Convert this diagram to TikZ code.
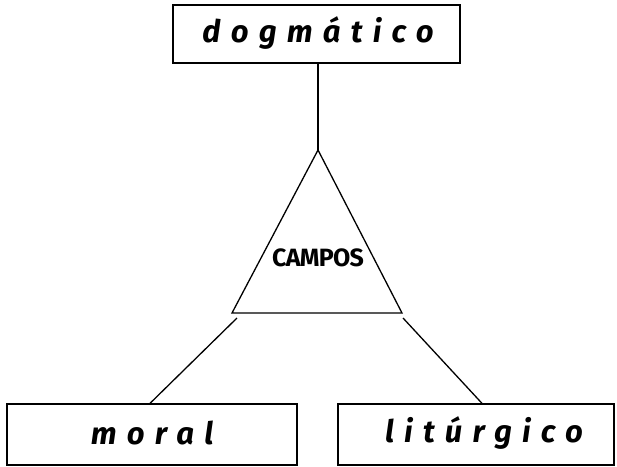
\documentclass[tikz,border=0pt]{standalone}
\usepackage{fontspec}
\setmainfont{Fira Sans}
\newfontfamily\labfont[LetterSpace=33,Ligatures=CommonOff]{Fira Sans}
\newfontfamily\campfont[LetterSpace=-3]{Fira Sans}
\begin{document}
\begin{tikzpicture}[x=1pt,y=-1pt,
  line/.style={line width=1.3pt},
  box/.style={draw,line width=1.3pt,inner sep=0pt},
  lab/.style={font=\labfont\fontsize{31}{34}\selectfont\bfseries\itshape},
  camp/.style={font=\campfont\fontsize{25}{27}\selectfont\bfseries}]
\useasboundingbox (0,0) rectangle (617,466);
\node[box,minimum width=287pt,minimum height=58pt] (top) at (316.5,34) {};
\node[lab] (toptext) at (318,33) {dogmático};
\node[box,minimum width=290pt,minimum height=61pt] (mor) at (152,434.5) {};
\node[lab] (mortext) at (152,433) {moral};
\node[box,minimum width=276pt,minimum height=61pt] (lit) at (476,434.5) {};
\node[lab] (littext) at (484,433) {litúrgico};
\coordinate (apex) at (318,150);
\coordinate (bl) at (232,313);
\coordinate (br) at (402,313);
\coordinate (tl) at (237,318);
\coordinate (tr) at (403,318);
\draw[line,line join=miter] (apex) -- (bl) -- (br) -- cycle;
\node[camp] (campos) at (318,258) {CAMPOS};
\draw[line] (top.south -| apex) -- (apex);
\draw[line] (tl) -- (mor.north -| 150,0);
\draw[line] (tr) -- (lit.north -| 482,0);
\end{tikzpicture}
\end{document}
